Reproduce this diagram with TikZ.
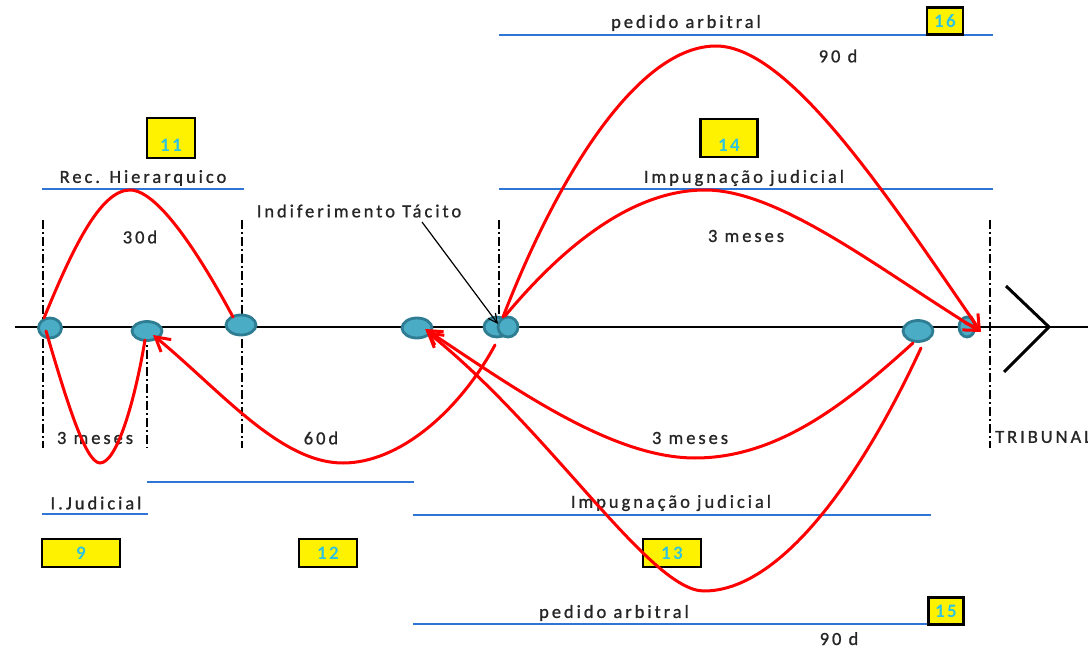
\documentclass[tikz,border=0pt]{standalone}
\usepackage{fontspec}
\newfontfamily\lblfont{Carlito}[LetterSpace=16,FakeBold=1]
\newfontfamily\numfont{Carlito}[LetterSpace=12]
\usetikzlibrary{shapes.geometric,arrows.meta,calc}
\definecolor{nodefill}{HTML}{4BACC6}
\definecolor{nodeedge}{HTML}{2F7D92}
\definecolor{lineblue}{HTML}{2E75D6}
\definecolor{numcyan}{HTML}{2CC3E3}
\definecolor{txt}{HTML}{262626}
\begin{document}
\begin{tikzpicture}[x=1pt,y=-1pt,
  evpt/.style={ellipse, fill=nodefill, draw=nodeedge, line width=2.8pt, inner sep=0pt},
  lbl/.style={font=\lblfont\fontsize{18.5}{21}\selectfont, text=txt, inner sep=0pt},
  numbox/.style={draw=black, line width=2.2pt, fill=yellow, inner sep=0pt,
    font=\numfont\bfseries\fontsize{19}{22}\selectfont, text=numcyan},
  lownum/.style={text height=29pt, text depth=1pt},
  bline/.style={draw=lineblue, line width=1.3pt},
  bthick/.style={draw=lineblue, line width=2.1pt},
  rc/.style={draw=red, line width=3pt, line cap=round},
  rca/.style={rc, -{Straight Barb[length=14pt,width=16pt]}},
  vdd/.style={draw=black, line width=1.2pt, dash pattern=on 9pt off 3pt on 2pt off 3pt},
  vddthick/.style={vdd, line width=2.8pt},
]
\useasboundingbox (0,0) rectangle (1088,647);

% blue period lines
\draw[bline] (42,189) -- (244,189);
\draw[bline] (499,189) -- (993,189);
\draw[bline] (499,35) -- (993,35);
\draw[bthick] (42,514) -- (148,514);
\draw[bline] (147,482) -- (414,482);
\draw[bthick] (413,515) -- (931,515);
\draw[bline, line width=1.6pt] (413,624) -- (930,624);

% vertical dash-dot limits
\draw[vdd] (43,220) -- (43,448);
\draw[vdd] (147,333) -- (147,448);
\draw[vddthick] (242,220) -- (242,448);
\draw[vdd] (499,220) -- (499,330);
\draw[vdd] (990,220) -- (990,448);

% time axis
\coordinate (axl) at (15,327);
\coordinate (axr) at (1088,327);
\draw[line width=2.5pt] (axl) -- (axr);
\coordinate (chA) at (1006,286);
\coordinate (chB) at (1049,327);
\coordinate (chC) at (1004,372);
\draw[line width=3pt, miter limit=10] (chA) -- (chB) -- (chC);

% event points
\node[evpt, minimum width=23pt, minimum height=20pt] (n1) at (50,328) {};
\node[evpt, minimum width=30pt, minimum height=19pt] (n2) at (147,331) {};
\node[evpt, minimum width=30pt, minimum height=20pt] (n3) at (241,325) {};
\node[evpt, minimum width=30pt, minimum height=20pt] (n4) at (417,328) {};
\node[evpt, minimum width=26pt, minimum height=20pt] (n5a) at (497,327) {};
\node[evpt, minimum width=20pt, minimum height=20pt] (n5b) at (508,327) {};
\node[evpt, minimum width=30pt, minimum height=21pt] (n6) at (918,331) {};
\node[evpt, minimum width=16pt, minimum height=20pt] (n7) at (967,327) {};

% labels
\node[lbl] (trec) at (143,178) {Rec. Hierarquico};
\node[lbl] (tind) at (359,211) {Indiferimento Tácito};
\node[lbl] (t30) at (140,237) {30d};
\node[lbl] (t3l) at (95,438) {3 meses};
\node[lbl] (t60) at (321,438) {60d};
\node[lbl] (t3b) at (690,438) {3 meses};
\node[lbl] (t3t) at (746,236) {3 meses};
\node[lbl] (timpt) at (744,178) {Impugnação judicial};
\node[lbl] (tpedt) at (686,23) {pedido arbitral};
\node[lbl] (t90t) at (838,56) {90 d};
\node[lbl, anchor=west] (ttrib) at (995,437) {TRIBUNAL};
\node[lbl] (tij) at (96,503) {I.Judicial};
\node[lbl] (timpb) at (671,503) {Impugnação judicial};
\node[lbl] (tpedb) at (614,613) {pedido arbitral};
\node[lbl, anchor=base] (t90b) at (839,645) {90 d};

% numbered boxes
\node[numbox, lownum, minimum width=48pt, minimum height=40pt] (b11) at (171,138) {11};
\node[numbox, lownum, minimum width=57pt, minimum height=38pt] (b14) at (729,138) {14};
\node[numbox, minimum width=36pt, minimum height=27pt] (b16) at (945,21) {16};
\node[numbox, minimum width=78pt, minimum height=28pt] (b9) at (81,553) {9};
\node[numbox, minimum width=58pt, minimum height=28pt] (b12) at (328,553) {12};
\node[numbox, minimum width=58pt, minimum height=28pt] (b13) at (672,553) {13};
\node[numbox, minimum width=35pt, minimum height=27pt] (b15) at (946,611) {15};

% red period curves
\draw[rc] ($(n1)+(-6,-10)$) .. controls (72,250) and (100,190) .. (130,190)
          .. controls (160,190) and (205,265) .. ($(n3)+(-8,-8)$);
\draw[rc] ($(n1)+(-4,3)$) .. controls (65,395) and (85,463) .. (100,463)
          .. controls (117,463) and (135,400) .. ($(n2)+(-2,9)$);
\draw[rca] ($(n5a)+(-2,18)$) .. controls (460,410) and (400,463) .. (343,463)
          .. controls (280,463) and (220,390) .. ($(n2)+(6,4)$);
\draw[rca] ($(n6)+(-5,12)$) .. controls (850,400) and (780,458) .. (695,458)
          .. controls (610,458) and (510,385) .. ($(n4)+(8,1)$);
\draw[rca] ($(n6)+(3,17)$) .. controls (860,480) and (780,591) .. (704,591)
          .. controls (650,591) and (550,430) .. ($(n4)+(9,3)$);
\draw[rca] ($(n5b)+(-5,-10)$) .. controls (560,170) and (640,46) .. (716,46)
          .. controls (790,46) and (890,200) .. ($(n7)+(14,5)$);
\draw[rca] ($(n5b)+(-3,-11)$) .. controls (560,250) and (630,190) .. (705,190)
          .. controls (780,190) and (880,270) .. ($(n7)+(14,5)$);

% pointer to tacit rejection
\coordinate (indstart) at (422,222);
\draw[line width=1.2pt, -{Straight Barb[length=9pt,width=9pt]}] (indstart) -- ($(n5a)+(1,-3)$);
\end{tikzpicture}
\end{document}
